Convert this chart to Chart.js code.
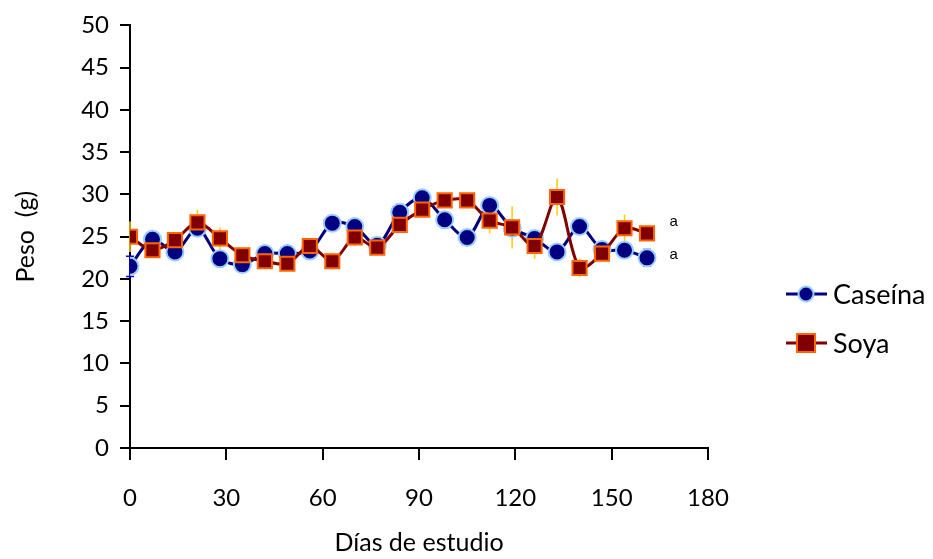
<!DOCTYPE html>
<html>
<head>
<meta charset="utf-8">
<script src="https://cdn.jsdelivr.net/npm/chart.js@4.4.1/dist/chart.umd.min.js"></script>
<style>
  html, body { margin: 0; padding: 0; background: #fff; }
  #wrap { width: 933px; height: 559px; }
</style>
</head>
<body>
<div id="wrap"><canvas id="myChart" width="933" height="559"></canvas></div>
<script>
const days = [0, 7, 14, 21, 28, 35, 42, 49, 56, 63, 70, 77, 84, 91, 98, 105, 112, 119, 126, 133, 140, 147, 154, 161];
const caseina = [21.5, 24.7, 23.2, 26.0, 22.4, 21.7, 23.0, 23.0, 23.3, 26.6, 26.2, 24.0, 27.9, 29.6, 27.0, 24.9, 28.7, 26.0, 24.8, 23.2, 26.2, 23.5, 23.4, 22.5];
const soya = [25.0, 23.4, 24.6, 26.7, 24.8, 22.8, 22.1, 21.8, 23.9, 22.1, 24.9, 23.7, 26.4, 28.2, 29.3, 29.3, 26.9, 26.1, 23.9, 29.7, 21.3, 23.0, 26.0, 25.4];
const caseinaErr = [1.2, 0.8, 0.6, 0.8, 0.7, 0.6, 0.8, 0.7, 0.6, 0.6, 0.7, 0.6, 0.9, 0.6, 0.9, 0.8, 0.9, 0.7, 0.7, 0.7, 0.8, 0.7, 0.7, 1.0];
const soyaErr = [1.8, 0.8, 1.0, 1.5, 1.3, 0.6, 0.9, 0.6, 0.8, 1.0, 1.0, 0.5, 0.8, 0.8, 0.6, 0.6, 1.5, 2.5, 1.5, 2.2, 1.1, 0.8, 1.6, 0.8];
const xTicks = [0, 30, 60, 90, 120, 150, 180];
const letters = [{ x: 168, y: 26.7, text: 'a' }, { x: 168, y: 22.9, text: 'a' }];

const FONT = 'Lato, "Open Sans", sans-serif';

function points(ys){
    return days.map((d, i) => ({ x: d, y: ys[i] }))
}

// vertical error bars, drawn under the markers
const errorBars = {
    id: 'errorBars',
    beforeDatasetsDraw(chart){
        const ctx = chart.ctx
        const xs = chart.scales.x
        const ys = chart.scales.y
        const sets = [
            { vals: soya, err: soyaErr, color: '#ffcc00', cap: 0 },
            { vals: caseina, err: caseinaErr, color: '#0000ff', cap: 4 }
        ]
        ctx.save()
        ctx.lineWidth = 1.5
        sets.forEach(s => {
            ctx.strokeStyle = s.color
            days.forEach((d, i) => {
                const px = xs.getPixelForValue(d)
                const top = ys.getPixelForValue(s.vals[i] + s.err[i])
                const bot = ys.getPixelForValue(s.vals[i] - s.err[i])
                ctx.beginPath()
                ctx.moveTo(px, top)
                ctx.lineTo(px, bot)
                if(s.cap){
                    ctx.moveTo(px - s.cap, top); ctx.lineTo(px + s.cap, top)
                    ctx.moveTo(px - s.cap, bot); ctx.lineTo(px + s.cap, bot)
                }
                ctx.stroke()
            })
        })
        ctx.restore()
    }
}

// significance letters and the legend on the right
const extras = {
    id: 'extras',
    afterDraw(chart){
        const ctx = chart.ctx
        const xs = chart.scales.x
        const ys = chart.scales.y
        ctx.save()
        ctx.fillStyle = '#000'
        ctx.font = '15px "Liberation Sans", Arial, sans-serif'
        ctx.textAlign = 'left'
        ctx.textBaseline = 'middle'
        letters.forEach(l => {
            ctx.fillText(l.text, xs.getPixelForValue(l.x), ys.getPixelForValue(l.y))
        })

        const items = [
            { label: 'Caseína', line: '#000080', y: 294, circle: true },
            { label: 'Soya', line: '#800000', y: 343, circle: false }
        ]
        items.forEach(it => {
            ctx.strokeStyle = it.line
            ctx.lineWidth = 3
            ctx.beginPath()
            ctx.moveTo(786, it.y)
            ctx.lineTo(827, it.y)
            ctx.stroke()
            if(it.circle){
                ctx.beginPath()
                ctx.arc(806, it.y, 7.5, 0, Math.PI * 2)
                ctx.fillStyle = '#000080'
                ctx.fill()
                ctx.lineWidth = 2
                ctx.strokeStyle = '#99ccff'
                ctx.stroke()
            }else{
                ctx.fillStyle = '#800000'
                ctx.fillRect(797, it.y - 9, 18, 18)
                ctx.lineWidth = 2
                ctx.strokeStyle = '#ff6600'
                ctx.strokeRect(797, it.y - 9, 18, 18)
            }
            ctx.fillStyle = '#000'
            ctx.font = '27px ' + FONT
            ctx.fillText(it.label, 833, it.y + 1)
        })
        ctx.restore()
    }
}

const ctx = document.getElementById('myChart').getContext('2d');
const myChart = new Chart(ctx, {
    type: 'line',
    data: {
        datasets: [{
            label: 'Caseína',
            data: points(caseina),
            borderColor: '#000080',
            borderWidth: 3,
            pointStyle: 'circle',
            pointRadius: 8.5,
            pointBackgroundColor: '#000080',
            pointBorderColor: '#99ccff',
            pointBorderWidth: 2,
            tension: 0.3,
            order: 1
        }, {
            label: 'Soya',
            data: points(soya),
            borderColor: '#800000',
            borderWidth: 3,
            pointStyle: 'rect',
            pointRadius: 10,
            pointBackgroundColor: '#800000',
            pointBorderColor: '#ff6600',
            pointBorderWidth: 2,
            tension: 0.3,
            order: 0
        }]
    },
    options: {
        responsive: false,
        animation: false,
        layout: {
            padding: { left: 11, top: 21, right: 225, bottom: 0 }
        },
        plugins: {
            legend: { display: false },
            tooltip: { enabled: false }
        },
        scales: {
            x: {
                type: 'linear',
                min: 0,
                max: 180,
                afterBuildTicks: s => { s.ticks = xTicks.map(v => ({ value: v })) },
                afterFit: s => { s.height = 111 },
                border: { color: '#000', width: 2 },
                grid: {
                    drawOnChartArea: false,
                    color: '#000',
                    lineWidth: 2,
                    tickLength: 12
                },
                ticks: {
                    color: '#000',
                    padding: 24,
                    maxRotation: 0,
                    font: { family: FONT, size: 24 }
                },
                title: {
                    display: true,
                    text: 'Días de estudio',
                    color: '#000',
                    padding: { top: 0, bottom: 1 },
                    font: { family: FONT, size: 25 }
                }
            },
            y: {
                min: 0,
                max: 50,
                afterFit: s => { s.width = 119 },
                border: { color: '#000', width: 2 },
                grid: {
                    drawOnChartArea: false,
                    color: '#000',
                    lineWidth: 2,
                    tickLength: 10
                },
                ticks: {
                    stepSize: 5,
                    color: '#000',
                    padding: 11,
                    font: { family: FONT, size: 24 }
                },
                title: {
                    display: true,
                    text: 'Peso  (g)',
                    color: '#000',
                    padding: 0,
                    font: { family: FONT, size: 25 }
                }
            }
        }
    },
    plugins: [errorBars, extras]
});
</script>
</body>
</html>
